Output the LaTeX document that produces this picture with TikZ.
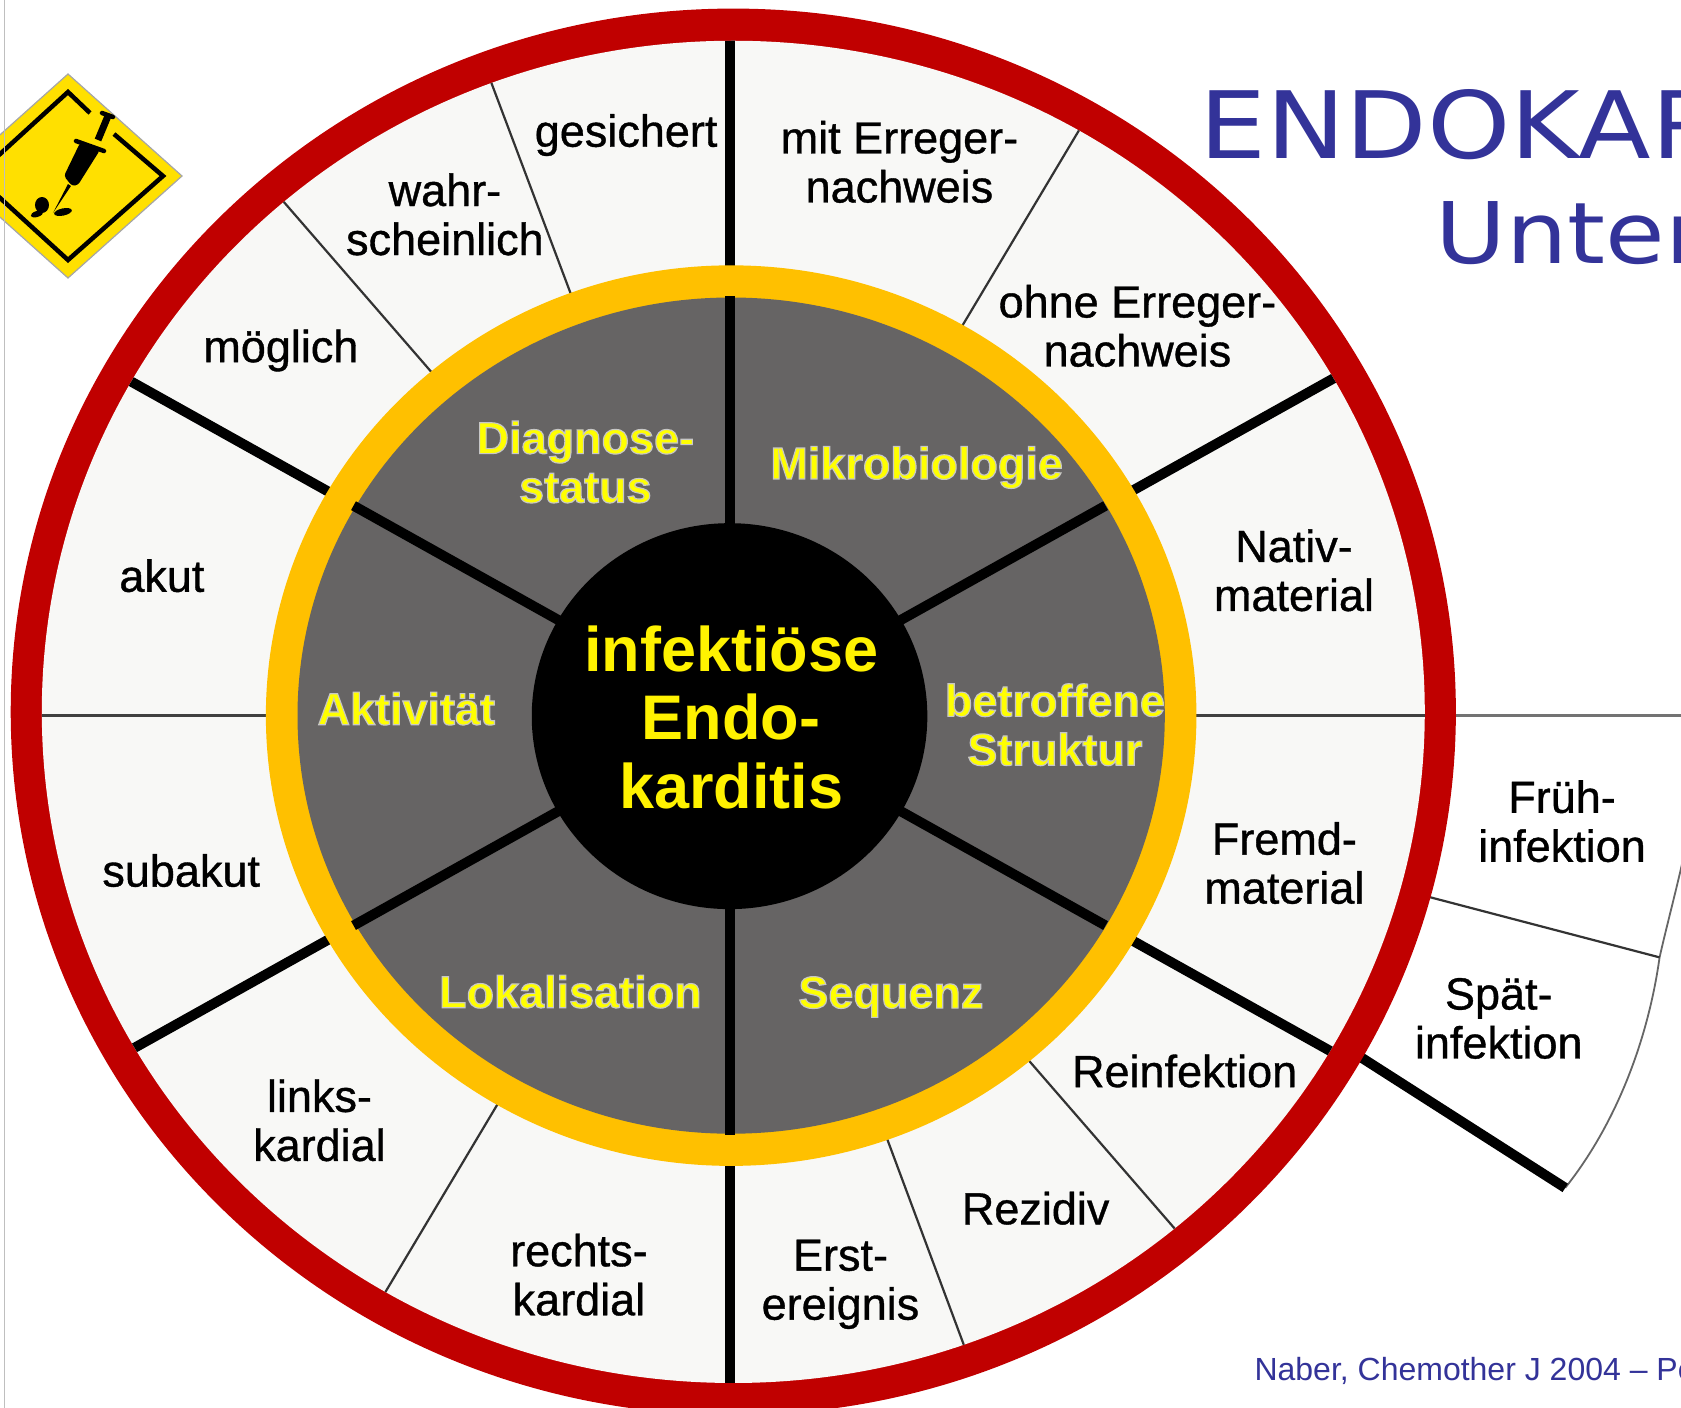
\documentclass[tikz,border=0pt]{standalone}
\usepackage{fontspec}
\setmainfont{Liberation Sans}
\newfontfamily\titlefont[FakeStretch=1.14]{DejaVu Sans}
\newfontfamily\haloyfont[FakeBold=2.5]{Liberation Sans Bold}
\newfontfamily\labfont[FakeBold=0.8]{Liberation Sans}
\definecolor{rimred}{HTML}{C00000}
\definecolor{ringor}{HTML}{FFC000}
\definecolor{paper}{HTML}{F8F8F6}
\definecolor{wedge}{HTML}{666464}
\definecolor{titleblue}{HTML}{333399}
\definecolor{signy}{HTML}{FFE000}
\newcommand{\wpt}[2]{({680.5+#2*cos(#1)},{667.5-0.967*#2*sin(#1)})}
\newcommand{\halo}[1]{\special{pdf:bc [1 1 0] [0.78 0.78 0.78]}#1\special{pdf:ec}}
\tikzset{
  lab/.style={align=center,inner sep=0pt,text=black,font=\labfont\fontsize{45}{49}\selectfont},
  ylab/.style={align=center,inner sep=0pt,text=yellow,font=\haloyfont\fontsize{45}{49}\selectfont},
  clab/.style={align=center,inner sep=0pt,text=yellow,font=\fontsize{63}{68.6}\selectfont\bfseries},
  heavy spoke/.style={line width=10pt,black},
  fine spoke/.style={line width=2.2pt,black!80},
  title/.style={anchor=base west,inner sep=0pt,text=titleblue},
}
\begin{document}
\begin{tikzpicture}[x=1.0721pt,y=-1.0721pt]
\useasboundingbox (0,0) rectangle (1568,1313.3);
\clip (0,0) rectangle (1568,1313.3);
\fill[white] (0,0) rectangle (1568,1313.3);

% extra fan behind the wheel
\path \wpt{-29}{640} coordinate (fanA);
\coordinate (fanB) at (1460,1108);
\path \wpt{-15}{640} coordinate (sepA);
\coordinate (sepB) at (1548,893);
\coordinate (fanC) at (1572,792);
\path \wpt{0}{640} coordinate (horA);
\coordinate (horB) at (1570,667.5);
\draw[line width=1.8pt,black!60] (fanB) .. controls (1510,1045) and (1538,965) .. (sepB) .. controls (1555,862) and (1565,825) .. (fanC);
\draw[fine spoke] (sepA) -- (sepB);
\draw[line width=2.6pt,black!55] (horA) -- (horB);
\draw[heavy spoke] (fanA) -- (fanB);

% outer wheel
\fill[rimred] (684,664) ellipse [x radius=674,y radius=656];
\fill[paper] (684,664) ellipse [x radius=645,y radius=626];
\begin{scope}
  \clip (684,664) ellipse [x radius=645,y radius=626];
  \foreach \a in {0,180}{\draw[line width=2.6pt,black!75] \wpt{\a}{420} -- \wpt{\a}{700};}
  \foreach \a in {60,110,130,-120,-70.2,-50}{\draw[fine spoke] \wpt{\a}{420} -- \wpt{\a}{700};}
  \foreach \a in {30,90,150,210,270,330}{\draw[heavy spoke] \wpt{\a}{420} -- \wpt{\a}{700};}
\end{scope}

% inner wheel
\fill[ringor] (682,667.5) ellipse [x radius=434,y radius=420];
\fill[wedge] (682,667.5) ellipse [x radius=404.5,y radius=390];
\foreach \a in {30,90,150,210,270,330}{\draw[heavy spoke] \wpt{\a}{170} -- \wpt{\a}{405};}
\fill[black] (680.5,668) ellipse [x radius=184.5,y radius=180];

% warning sign
\begin{scope}[x=1pt,y=-1pt]
  \fill[signy,draw=black!35,line width=1.2pt] (68,74) -- (182,176) -- (68,278) -- (-46,176) -- cycle;
  \draw[black,line width=4.5pt,miter limit=4] (90,113) -- (68,92) -- (-24,176) -- (68,260) -- (163,176) -- (114,134);
  \fill[black] (53,213) -- (68,184) -- (71,186) -- cycle;
  \fill[black,rounded corners=3pt] (64,176) -- (72,186) -- (78,185) -- (100,150) -- (80,143) -- cycle;
  \draw[black,line width=4.5pt,line cap=round] (76,141) -- (104,151);
  \draw[black,line width=7pt] (98,140) -- (108,116);
  \draw[black,line width=4.5pt,line cap=round] (102,113) -- (113,117);
  \fill[black] (42,205) ellipse [x radius=7,y radius=8];
  \fill[black,rotate around={18:(37,214)}] (37,214) ellipse [x radius=6.5,y radius=3];
  \fill[black,rotate around={12:(63,212)}] (63,212) ellipse [x radius=9,y radius=3.6];
\end{scope}
\draw[black!25,line width=0.9pt] (4,0) -- (4,1313.3);

% titles
\node[title,font=\titlefont\fontsize{93}{93}\selectfont] (t1) at (1118.7,148) {ENDOKAR};
\node[title,font=\titlefont\fontsize{85}{85}\selectfont] (t2) at (1338.5,246) {Unter};
\node[anchor=base west,inner sep=0pt,text=titleblue,font=\fontsize{32}{32}\selectfont] (ref) at (1170,1288) {Naber, Chemother J 2004 – Pe};

% outer labels
\node[lab] (gesichert) at (584,126) {gesichert};
\node[lab] (mit) at (839,151) {mit Erreger-\\nachweis};
\node[lab] (wahr) at (415,200) {wahr-\\scheinlich};
\node[lab] (moeglich) at (262,327) {möglich};
\node[lab] (ohne) at (1061,304) {ohne Erreger-\\nachweis};
\node[lab] (akut) at (151,537) {akut};
\node[lab] (nativ) at (1207,532) {Nativ-\\material};
\node[lab] (subakut) at (169,812) {subakut};
\node[lab] (fremd) at (1198,805) {Fremd-\\material};
\node[lab] (links) at (298,1045) {links-\\kardial};
\node[lab] (rechts) at (540,1189) {rechts-\\kardial};
\node[lab] (erst) at (784,1198) {Erst-\\ereignis};
\node[lab] (rezidiv) at (966,1127) {Rezidiv};
\node[lab] (rein) at (1105,999) {Reinfektion};
\node[lab] (frueh) at (1457,766) {Früh-\\infektion};
\node[lab] (spaet) at (1398,950) {Spät-\\infektion};

% inner labels
\node[ylab] (diag) at (546,431) {\halo{Diagnose-}\\\halo{status}};
\node[ylab] (mikro) at (855,436) {\halo{Mikrobiologie}};
\node[ylab] (aktiv) at (379,661) {\halo{Aktivität}};
\node[ylab] (betr) at (984,676) {\halo{betroffene}\\\halo{Struktur}};
\node[ylab] (loka) at (532,925) {\halo{Lokalisation}};
\node[ylab] (seq) at (831,930) {\halo{Sequenz}};
\node[clab] (centre) at (682,669) {infektiöse\\Endo-\\karditis};
\end{tikzpicture}
\end{document}
